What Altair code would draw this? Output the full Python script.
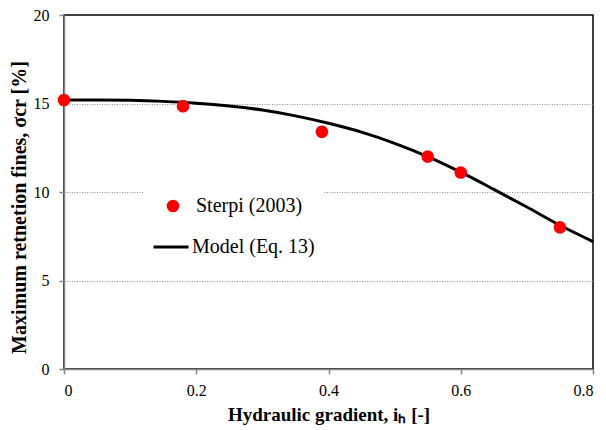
import altair as alt
import pandas as pd

# measured data (Sterpi 2003)
pts_x = [0.0, 0.18, 0.39, 0.55, 0.60, 0.75]
pts_y = [15.2, 14.85, 13.4, 12.0, 11.1, 8.0]

# model curve (Eq. 13)
model_x = [0.0, 0.05, 0.10, 0.15, 0.20, 0.25, 0.30, 0.35, 0.40, 0.45, 0.50, 0.55, 0.60, 0.65, 0.70, 0.75, 0.80]
model_y = [15.2, 15.2, 15.18, 15.12, 15.02, 14.86, 14.63, 14.3, 13.88, 13.38, 12.75, 12.0, 11.12, 10.15, 9.15, 8.12, 7.2]

x_ticks = [0, 0.2, 0.4, 0.6, 0.8]
y_ticks = [0, 5, 10, 15, 20]

pts = pd.DataFrame({"x": pts_x, "y": pts_y, "s": "Sterpi (2003)"})
mod = pd.DataFrame({"x": model_x, "y": model_y, "m": "Model (Eq. 13)"})

FONT = "Liberation Serif"

xsc = alt.Scale(domain=[0, 0.8], nice=False, zero=False)
ysc = alt.Scale(domain=[0, 20], nice=False)

xaxis = alt.Axis(values=x_ticks, grid=False,
                 labelExpr="datum.value == 0 ? '0' : format(datum.value, '.1f')",
                 title="Hydraulic gradient, iₕ [-]", titleFontSize=19, titlePadding=7)
yaxis = alt.Axis(values=y_ticks,
                 gridDash=[1, 1.5],
                 gridColor="#8c8c8c",
                 gridOpacity={"condition": {"test": "datum.value == 0 || datum.value == 20", "value": 0}, "value": 1},
                 title="Maximum retnetion fines, σcr [%]", titleFontSize=20, titleY=192, titlePadding=4)

line = alt.Chart(mod).mark_line(color="black", strokeWidth=3, interpolate="monotone").encode(
    x=alt.X("x:Q", scale=xsc, axis=xaxis),
    y=alt.Y("y:Q", scale=ysc, axis=yaxis),
    stroke=alt.Stroke("m:N", scale=alt.Scale(domain=["Model (Eq. 13)"], range=["black"]),
                      legend=alt.Legend(orient="none", legendX=88, legendY=213, title=None,
                                        symbolType="stroke", symbolSize=1225, symbolStrokeWidth=3,
                                        labelOffset=2, padding=0)),
)

points = alt.Chart(pts).mark_circle(size=160, opacity=1).encode(
    x=alt.X("x:Q", scale=xsc),
    y=alt.Y("y:Q", scale=ysc),
    fill=alt.Fill("s:N", scale=alt.Scale(domain=["Sterpi (2003)"], range=["#ff0000"]),
                  legend=alt.Legend(orient="none", legendX=79, legendY=161, title=None,
                                    symbolType="circle", symbolSize=160, symbolStrokeWidth=0,
                                    labelOffset=13, padding=20, fillColor="white")),
)

chart = alt.layer(line, points).properties(
    width=529, height=354,
    background="white",
    autosize=alt.AutoSizeParams(type="none"),
    padding={"left": 64, "top": 15, "right": 13, "bottom": 61},
).configure(
    font=FONT
).configure_view(
    stroke="black", strokeWidth=1.5
).configure_axis(
    domainColor="#868686", domainWidth=1.5, tickColor="#868686", tickSize=5, tickWidth=1.5,
    labelFont=FONT, labelFontSize=16, labelColor="black",
    titleFont=FONT, titleFontWeight="bold", titleColor="black",
).configure_axisX(
    labelPadding=8
).configure_axisY(
    labelPadding=10
).configure_legend(
    labelFont=FONT, labelFontSize=20, labelColor="black", labelLimit=300
)

chart.save("out.html", embed_options={"renderer": "svg", "actions": False})
